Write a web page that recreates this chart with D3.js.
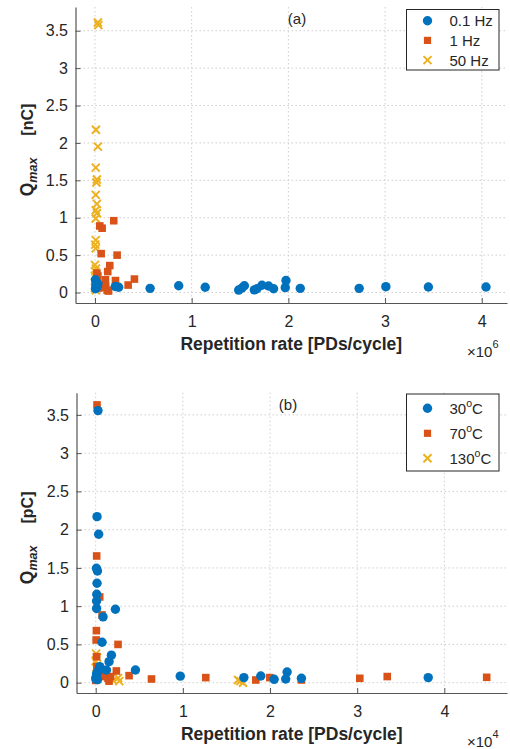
<!DOCTYPE html>
<html>
<head>
<meta charset="utf-8">
<script src="https://cdn.jsdelivr.net/npm/d3@7"></script>
<style>
  body { margin: 0; background: #fff; }
  svg { display: block; }
</style>
</head>
<body>
<div id="chart"></div>
<script>
// panel (a): x in units of 1e6 PDs/cycle, y in nC
const freqNames = ['0.1 Hz', '1 Hz', '50 Hz']
const a_01Hz = [
  [0.005, 0.17], [0.01, 0.13], [0.015, 0.10], [0.02, 0.07], [0.005, 0.05], [0.03, 0.12],
  [0.01, 0.09], [0.025, 0.10], [0.21, 0.08], [0.245, 0.07], [0.57, 0.056], [0.866, 0.09],
  [1.14, 0.07], [1.486, 0.033], [1.52, 0.06], [1.545, 0.09], [1.648, 0.035], [1.675, 0.05],
  [1.727, 0.097], [1.795, 0.087], [1.847, 0.05], [1.968, 0.065], [1.975, 0.16], [2.123, 0.056],
  [2.732, 0.056], [3.008, 0.078], [3.448, 0.074], [4.044, 0.074]
]
const a_1Hz = [
  [0.194, 0.96], [0.05, 0.89], [0.074, 0.86], [0.064, 0.52], [0.229, 0.50], [0.153, 0.36],
  [0.132, 0.28], [0.212, 0.16], [0.408, 0.18], [0.343, 0.10], [0.02, 0.26], [0.03, 0.22],
  [0.01, 0.15], [0.108, 0.17], [0.108, 0.10], [0.126, 0.03], [0.14, 0.02], [0.04, 0.06],
  [0.11, 0.07]
]
const a_50Hz = [
  [0.03, 3.61], [0.035, 3.575], [0.01, 2.175], [0.03, 1.95], [0.008, 1.67], [0.02, 1.51],
  [0.015, 1.47], [0.008, 1.305], [0.02, 1.185], [0.008, 1.10], [0.02, 1.06], [0.008, 0.99],
  [0.008, 0.70], [0.003, 0.64], [0.008, 0.59], [0.0, 0.37], [0.01, 0.32], [0.005, 0.28],
  [0.0, 0.22], [0.005, 0.15], [0.0, 0.06], [0.01, 0.03]
]

// panel (b): x in units of 1e4 PDs/cycle, y in pC
const tempNames = ['30', '70', '130']
const b_30C = [
  [0.026, 3.556], [0.015, 2.17], [0.034, 1.94], [0.008, 1.495], [0.02, 1.46], [0.015, 1.30],
  [0.012, 1.155], [0.01, 1.068], [0.01, 0.97], [0.226, 0.96], [0.084, 0.86], [0.073, 0.528],
  [0.18, 0.36], [0.153, 0.275], [0.123, 0.166], [0.046, 0.21], [0.01, 0.12], [0.005, 0.07],
  [0.03, 0.15], [0.02, 0.04], [0.0, 0.05], [0.04, 0.18], [0.456, 0.166], [0.97, 0.085],
  [1.70, 0.066], [1.894, 0.087], [2.047, 0.044], [2.18, 0.048], [2.196, 0.14], [2.36, 0.057],
  [3.815, 0.066]
]
const b_70C = [
  [0.015, 3.63], [0.011, 1.656], [0.046, 1.12], [0.073, 0.885], [0.008, 0.68], [0.005, 0.558],
  [0.256, 0.50], [0.01, 0.34], [0.012, 0.21], [0.237, 0.153], [0.141, 0.057], [0.153, 0.02],
  [0.17, 0.08], [0.383, 0.092], [0.64, 0.048], [0.08, 0.08], [0.0, 0.03], [1.263, 0.066],
  [1.837, 0.035], [1.998, 0.066], [2.36, 0.035], [3.03, 0.057], [3.345, 0.08], [4.486, 0.07]
]
const b_130C = [
  [0.005, 0.38], [0.015, 0.33], [0.0, 0.28], [0.008, 0.2], [0.03, 0.12], [0.02, 0.05],
  [0.256, 0.06], [0.27, 0.02], [0.2, 0.03], [1.634, 0.035], [1.69, 0.0], [1.66, 0.02]
]

const yTicks = [0, 0.5, 1, 1.5, 2, 2.5, 3, 3.5]
const xTicks = [0, 1, 2, 3, 4]

const colors = ['#0072BD', '#D95319', '#EDB120']
const font = '"Liberation Sans", Arial, Helvetica, sans-serif'

const W = 510, H = 749
const svg = d3.select('#chart').append('svg')
  .attr('width', W).attr('height', H)
  .style('font-family', font)

// 画一个子图
const drawPanel = (cfg) => {
  const g = svg.append('g')
  const x = d3.scaleLinear().domain(cfg.xDomain).range([cfg.left, cfg.right])
  const y = d3.scaleLinear().domain(cfg.yDomain).range([cfg.bottom, cfg.top])

  // 网格线
  g.append('g').selectAll('line').data(xTicks).join('line')
    .attr('x1', d => x(d)).attr('x2', d => x(d))
    .attr('y1', cfg.top).attr('y2', cfg.bottom)
    .attr('stroke', '#cfcfcf').attr('stroke-dasharray', '1.5,2.5')
  g.append('g').selectAll('line').data(yTicks).join('line')
    .attr('x1', cfg.left).attr('x2', cfg.right)
    .attr('y1', d => y(d)).attr('y2', d => y(d))
    .attr('stroke', '#cfcfcf').attr('stroke-dasharray', '1.5,2.5')

  // 数据点，先画黄色再画橙色最后蓝色
  const order = [2, 1, 0]
  order.forEach(i => {
    const pts = cfg.series[i]
    const sg = g.append('g')
    if (i === 0) {
      sg.selectAll('circle').data(pts).join('circle')
        .attr('cx', d => x(d[0])).attr('cy', d => y(d[1]))
        .attr('r', 4.7).attr('fill', colors[0])
    } else if (i === 1) {
      sg.selectAll('rect').data(pts).join('rect')
        .attr('x', d => x(d[0]) - 3.8).attr('y', d => y(d[1]) - 3.8)
        .attr('width', 7.6).attr('height', 7.6).attr('fill', colors[1])
    } else {
      sg.selectAll('path').data(pts).join('path')
        .attr('d', d => {
          const cx = x(d[0]), cy = y(d[1]), s = 4
          return `M${cx - s},${cy - s}L${cx + s},${cy + s}M${cx - s},${cy + s}L${cx + s},${cy - s}`
        })
        .attr('stroke', colors[2]).attr('stroke-width', 2).attr('fill', 'none')
    }
  })

  // 坐标轴
  const xAxis = d3.axisBottom(x).tickValues(xTicks).tickSize(-5).tickSizeOuter(0).tickPadding(12.6)
    .tickFormat(d3.format('~g'))
  const yAxis = d3.axisLeft(y).tickValues(yTicks).tickSize(-5).tickSizeOuter(0).tickPadding(7.5)
    .tickFormat(d3.format('~g'))

  const gx = g.append('g').attr('transform', `translate(0,${cfg.bottom})`).call(xAxis)
  const gy = g.append('g').attr('transform', `translate(${cfg.left},0)`).call(yAxis)
  ;[gx, gy].forEach(a => {
    a.select('.domain').attr('stroke', '#555').attr('stroke-width', 1.2)
    a.selectAll('.tick line').attr('stroke', '#555').attr('stroke-width', 1)
    a.selectAll('.tick text').attr('fill', '#262626').style('font-size', '16px').style('font-family', font)
  })

  // 轴标题
  g.append('text')
    .attr('x', (cfg.left + cfg.right) / 2).attr('y', cfg.bottom + 47)
    .attr('text-anchor', 'middle')
    .style('font-size', '17.5px').style('font-weight', 'bold').attr('fill', '#262626')
    .text('Repetition rate [PDs/cycle]')

  const yl = g.append('text')
    .attr('transform', `translate(33,${(cfg.top + cfg.bottom) / 2 - 5}) rotate(-90)`)
    .attr('text-anchor', 'middle')
    .style('font-weight', 'bold').attr('fill', '#262626')
  yl.append('tspan').style('font-size', '17.5px').text('Q')
  yl.append('tspan').style('font-size', '12.5px').style('font-style', 'italic').attr('dy', 4).text('max')
  yl.append('tspan').style('font-size', '16px').attr('dy', -4).attr('dx', 22).text(cfg.unit)

  // 乘数
  const mult = g.append('text')
    .attr('x', cfg.right - 40).attr('y', cfg.bottom + 54)
    .attr('fill', '#262626').style('font-size', '15px')
  mult.append('tspan').text('\u00d710')
  mult.append('tspan').attr('dy', -9).style('font-size', '11px').text(cfg.exp)

  // 子图编号
  g.append('text')
    .attr('x', cfg.tagX).attr('y', cfg.top + 17)
    .attr('text-anchor', 'middle').attr('fill', '#262626').style('font-size', '15px')
    .text(cfg.tag)

  // 图例
  const lg = g.append('g')
  lg.append('rect')
    .attr('x', cfg.legend.x).attr('y', cfg.legend.y)
    .attr('width', cfg.legend.w).attr('height', cfg.legend.h)
    .attr('fill', '#fff').attr('stroke', '#262626').attr('stroke-width', 1)
  cfg.names.forEach((name, i) => {
    const cy = cfg.legend.y + cfg.legend.first + i * cfg.legend.step
    const mx = cfg.legend.x + 21
    if (i === 0) {
      lg.append('circle').attr('cx', mx).attr('cy', cy).attr('r', 4.7).attr('fill', colors[0])
    } else if (i === 1) {
      lg.append('rect').attr('x', mx - 3.6).attr('y', cy - 3.6).attr('width', 7.2).attr('height', 7.2)
        .attr('fill', colors[1])
    } else {
      const s = 4
      lg.append('path')
        .attr('d', `M${mx - s},${cy - s}L${mx + s},${cy + s}M${mx - s},${cy + s}L${mx + s},${cy - s}`)
        .attr('stroke', colors[2]).attr('stroke-width', 2)
    }
    const t = lg.append('text')
      .attr('x', cfg.legend.x + 43).attr('y', cy + 5.5)
      .attr('fill', '#262626').style('font-size', '15px')
    if (cfg.degree) {
      t.append('tspan').text(name)
      t.append('tspan').attr('dy', -7).style('font-size', '10.5px').text('o')
      t.append('tspan').attr('dy', 7).text('C')
    } else {
      t.text(name)
    }
  })
}

drawPanel({
  left: 75.5, right: 507, top: 7, bottom: 303,
  xDomain: [-0.2014, 4.261], yDomain: [-0.14, 3.817],
  series: [a_01Hz, a_1Hz, a_50Hz], names: freqNames,
  unit: '[nC]', exp: '6', tag: '(a)', tagX: 297,
  legend: { x: 406.5, y: 9.5, w: 92.5, h: 60.5, first: 11.2, step: 19.7 },
  degree: false
})

drawPanel({
  left: 76.5, right: 507, top: 392.7, bottom: 693,
  xDomain: [-0.2204, 4.719], yDomain: [-0.135, 3.79],
  series: [b_30C, b_70C, b_130C], names: tempNames,
  unit: '[pC]', exp: '4', tag: '(b)', tagX: 288,
  legend: { x: 406.5, y: 394, w: 92.5, h: 77, first: 14.3, step: 25 },
  degree: true
})
</script>
</body>
</html>
